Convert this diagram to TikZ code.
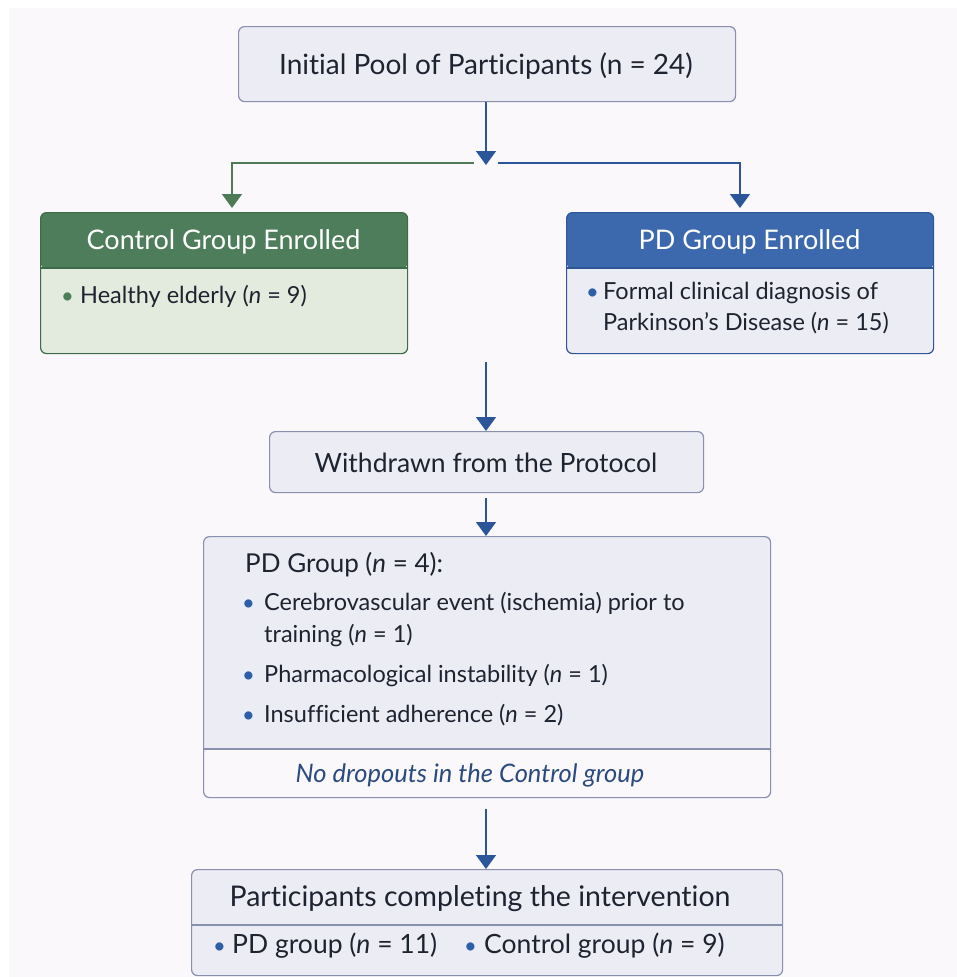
\documentclass[tikz,border=0pt]{standalone}
\usepackage{fontspec}
\setmainfont{Lato}[Ligatures=NoCommon]
\usetikzlibrary{arrows.meta,calc}
\definecolor{bgc}{HTML}{FBF8FB}
\definecolor{boxfill}{HTML}{ECECF4}
\definecolor{boxline}{HTML}{8890AE}
\definecolor{gHead}{HTML}{4E7D5B}
\definecolor{gBody}{HTML}{E2EBDD}
\definecolor{gLine}{HTML}{3E6A4A}
\definecolor{bHead}{HTML}{3C69AE}
\definecolor{bLine}{HTML}{2E5596}
\definecolor{arrB}{HTML}{2B569A}
\definecolor{arrG}{HTML}{4F7A56}
\definecolor{txt}{HTML}{1E2330}
\definecolor{itxt}{HTML}{2B4A80}
\definecolor{bulB}{HTML}{2B5FA8}
\tikzset{
  x=1pt,y=-1pt,
  box/.style={draw=boxline,fill=boxfill,line width=1.2pt,rounded corners=6pt,anchor=north west,inner sep=0pt},
  lbl/.style={text=txt,inner sep=0pt},
  bigtxt/.style={lbl,font=\fontsize{27.5}{32}\selectfont},
  bodytxt/.style={lbl,font=\fontsize{23.5}{28}\selectfont,anchor=mid west},
  bul/.style={text=bulB,inner sep=0pt,font=\fontsize{22}{26}\selectfont,anchor=mid west},
  arr/.style={draw=arrB,line width=1.8pt,-{Triangle[width=20pt,length=14pt]}},
  arrg/.style={draw=arrG,line width=1.8pt,-{Triangle[width=20pt,length=14pt]}},
}
\begin{document}
\begin{tikzpicture}
\useasboundingbox (0,0) rectangle (957,977);
\fill[white] (0,0) rectangle (957,977);
\fill[bgc] (9,8) rectangle (957,977);

% top box
\node[box,minimum width=497pt,minimum height=75pt] (top) at (238,26) {};
\node[bigtxt,font=\fontsize{28}{32}\selectfont] (toptxt) at (486,66) {Initial Pool of Participants (n = 24)};

% control box
\node[box,draw=gLine,fill=gBody,minimum width=367pt,minimum height=141pt,
  path picture={\fill[gHead] (path picture bounding box.north west) rectangle ([yshift=-56pt]path picture bounding box.north east);}] (ctrl) at (40,212) {};
\draw[gLine,line width=1.2pt] ([yshift=-56pt]ctrl.north west) -- ([yshift=-56pt]ctrl.north east);
\node[bigtxt,text=white,font=\fontsize{27}{32}\selectfont] (ctrlh) at (223.5,242) {Control Group Enrolled};
\node[bul,text=gHead] (cb1) at (61,301) {\textbullet};
\node[bodytxt] (ct1) at (80,301) {Healthy elderly (\textit{n} = 9)};

% PD box
\node[box,draw=bLine,fill=boxfill,minimum width=367pt,minimum height=141pt,
  path picture={\fill[bHead] (path picture bounding box.north west) rectangle ([yshift=-56pt]path picture bounding box.north east);}] (pd) at (566,212) {};
\draw[bLine,line width=1.2pt] ([yshift=-56pt]pd.north west) -- ([yshift=-56pt]pd.north east);
\node[bigtxt,text=white,font=\fontsize{27}{32}\selectfont] (pdh) at (749.5,242) {PD Group Enrolled};
\node[bul] (pb1) at (586,297) {\textbullet};
\node[bodytxt] (pt1) at (603,297) {Formal clinical diagnosis of};
\node[bodytxt] (pt2) at (603,328) {Parkinson's Disease (\textit{n} = 15)};

% withdrawn
\node[box,minimum width=434pt,minimum height=61pt] (wd) at (269,431) {};
\node[bigtxt,font=\fontsize{26.5}{32}\selectfont] (wdt) at (486,463) {Withdrawn from the Protocol};

% PD dropouts box
\node[box,minimum width=567pt,minimum height=261pt,
  path picture={\fill[bgc] ([yshift=-213pt]path picture bounding box.north west) rectangle (path picture bounding box.south east);}] (drop) at (203,536) {};
\draw[boxline,line width=1.2pt] ([yshift=-213pt]drop.north west) -- ([yshift=-213pt]drop.north east);
\node[bigtxt,anchor=mid west,font=\fontsize{26}{32}\selectfont] (dh) at (245,570) {PD Group (\textit{n} = 4):};
\node[bul] (db1) at (242,608) {\textbullet};
\node[bodytxt] (dt1) at (264,608) {Cerebrovascular event (ischemia) prior to};
\node[bodytxt] (dt1b) at (264,640) {training (\textit{n} = 1)};
\node[bul] (db2) at (242,680) {\textbullet};
\node[bodytxt] (dt2) at (264,680) {Pharmacological instability (\textit{n} = 1)};
\node[bul] (db3) at (242,720) {\textbullet};
\node[bodytxt] (dt3) at (264,720) {Insufficient adherence (\textit{n} = 2)};
\node[lbl,text=itxt,font=\fontsize{25.5}{30}\selectfont\itshape] (nod) at (470,775) {No dropouts in the Control group};

% final box
\node[box,minimum width=591pt,minimum height=106pt] (fin) at (191,869) {};
\draw[boxline,line width=1.2pt] ([yshift=-56pt]fin.north west) -- ([yshift=-56pt]fin.north east);
\node[bigtxt,font=\fontsize{28.5}{32}\selectfont] (fh) at (480,899) {Participants completing the intervention};
\node[bul] (fb1) at (213,951) {\textbullet};
\node[bodytxt,font=\fontsize{26.5}{30}\selectfont] (ft1) at (232,951) {PD group (\textit{n} = 11)};
\node[bul] (fb2) at (464,951) {\textbullet};
\node[bodytxt,font=\fontsize{26.5}{30}\selectfont] (ft2) at (484,951) {Control group (\textit{n} = 9)};

% connectors
\coordinate (split) at (486,165);
\coordinate (gl) at (474,163);
\coordinate (gr) at (498,163);
\coordinate (gcl) at (232,163);
\coordinate (gcr) at (740,163);
\coordinate (mid) at (486,362);
\draw[arr] (split |- top.south) -- (split);
\draw[arrg] (gl) -- (gcl) -- ([yshift=4pt]gcl |- ctrl.north);
\draw[arr] (gr) -- (gcr) -- ([yshift=4pt]gcr |- pd.north);
\draw[arr] (mid) -- (mid |- wd.north);
\draw[arr] ([yshift=-5pt]mid |- wd.south) -- (mid |- drop.north);
\draw[arr] ([yshift=-11pt]mid |- drop.south) -- (mid |- fin.north);
\end{tikzpicture}
\end{document}
